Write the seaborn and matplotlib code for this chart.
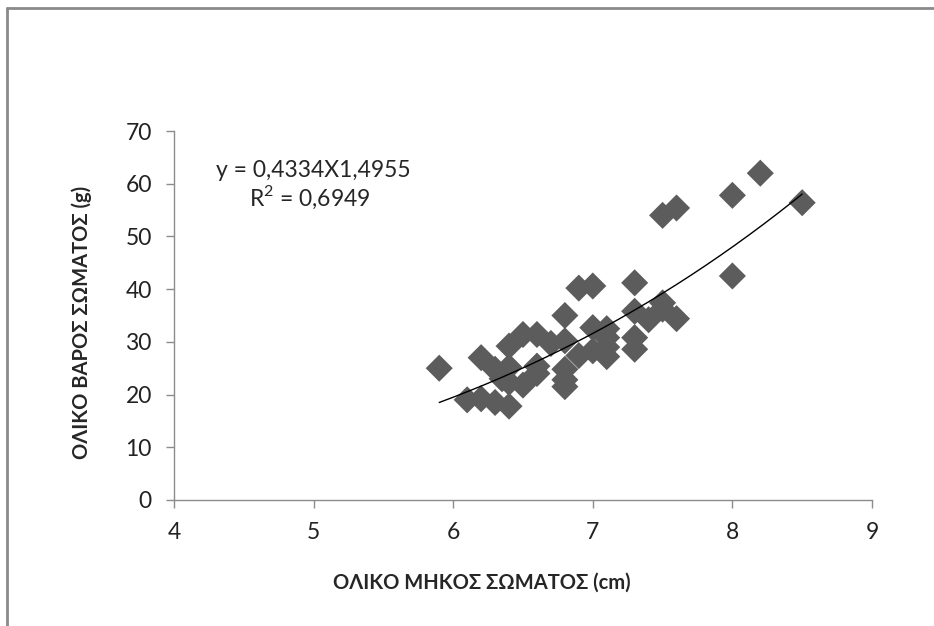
import matplotlib
matplotlib.use("Agg")
import matplotlib.pyplot as plt
import seaborn as sns
import pandas as pd
import numpy as np
from matplotlib.lines import Line2D

# data
length_cm = [5.9, 6.1, 6.2, 6.2, 6.3, 6.3, 6.35, 6.4, 6.4, 6.4, 6.4, 6.5, 6.5,
             6.6, 6.6, 6.6, 6.7, 6.8, 6.8, 6.8, 6.8, 6.8, 6.9, 6.9, 7.0, 7.0,
             7.0, 7.1, 7.1, 7.1, 7.1, 7.3, 7.3, 7.3, 7.3, 7.4, 7.5, 7.5, 7.5,
             7.6, 7.6, 8.0, 8.0, 8.2, 8.5]
weight_g = [25, 19, 27, 19.2, 24.8, 18.5, 23, 29.2, 25.2, 22.3, 17.8, 31.4, 21.8,
            31.4, 25.4, 24, 29.7, 35, 30.2, 24.8, 22.8, 21.5, 40.2, 27.4, 40.6, 32.7,
            28.3, 32.5, 30.8, 29, 27.2, 41.2, 35.8, 30.8, 28.6, 34.2, 54, 37.4, 36.2,
            55.4, 34.4, 57.8, 42.5, 62, 56.4]
x_ticks = [4, 5, 6, 7, 8, 9]
y_ticks = [0, 10, 20, 30, 40, 50, 60, 70]
eq_text = "y = 0,4334X1,4955"
r2_text = "R$^2$ = 0,6949"
x_label = "ΟΛΙΚΟ ΜΗΚΟΣ ΣΩΜΑΤΟΣ (cm)"
y_label = "ΟΛΙΚΟ ΒΑΡΟΣ ΣΩΜΑΤΟΣ (g)"

df = pd.DataFrame({"length": length_cm, "weight": weight_g})

sns.set_style("white")
plt.rcParams["font.family"] = ["Lato", "DejaVu Sans"]
plt.rcParams["mathtext.fontset"] = "custom"
plt.rcParams["mathtext.rm"] = "Lato"

fig = plt.figure(figsize=(9.34, 6.26), dpi=100)
ax = fig.add_axes([0.1863, 0.2013, 0.9336 - 0.1863, 0.7907 - 0.2013])

sns.scatterplot(data=df, x="length", y="weight", marker="D", s=190,
                color="#5c5c5c", edgecolor="none", ax=ax, zorder=2)

# power trendline (log-log least squares, like Excel)
b, log_a = np.polyfit(np.log(df["length"]), np.log(df["weight"]), 1)
xs = np.linspace(df["length"].min(), df["length"].max(), 200)
ax.plot(xs, np.exp(log_a) * xs ** b, color="black", lw=1, zorder=3)

ax.set_xlim(4, 9)
ax.set_ylim(0, 70)
ax.set_xticks(x_ticks)
ax.set_yticks(y_ticks)
ax.tick_params(axis="both", labelsize=16.5, direction="out", length=6,
               width=1, color="#8c8c8c", bottom=True, left=True, pad=10,
               labelcolor="#222222")
for side in ["top", "right"]:
    ax.spines[side].set_visible(False)
for side in ["left", "bottom"]:
    ax.spines[side].set_color("#8c8c8c")
    ax.spines[side].set_linewidth(1)

# axis titles are placed like the original (x title left of axes centre)
ax.set_xlabel(x_label, fontsize=14.5, fontweight="bold", va="center")
ax.xaxis.set_label_coords(0.441, -0.225)
ax.set_ylabel(y_label, fontsize=14.5, fontweight="bold", va="center")
ax.yaxis.set_label_coords(-0.132, 0.48)

ax.text(5.0, 62.6, eq_text, fontsize=16.5, ha="center", va="center")
ax.text(4.97, 57.4, r2_text, fontsize=16.5, ha="center", va="center")

# chart frame (left and top edges visible)
fig.add_artist(Line2D([0.0075, 0.0075], [0, 0.987], transform=fig.transFigure,
                      color="#8a8a8a", lw=2))
fig.add_artist(Line2D([0.0075, 1.0], [0.987, 0.987], transform=fig.transFigure,
                      color="#8a8a8a", lw=2))

fig.savefig("out.png", dpi=100)
